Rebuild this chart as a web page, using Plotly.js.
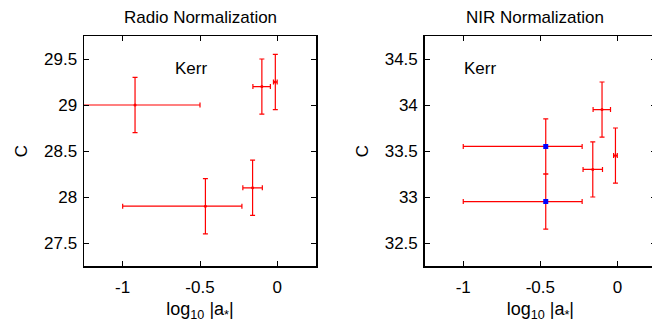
<!DOCTYPE html>
<html>
<head>
<meta charset="utf-8">
<script src="https://cdn.plot.ly/plotly-3.0.1.min.js"></script>
<style>
html,body{margin:0;padding:0;overflow:hidden;background:#fff;}
#chart{width:662px;height:322px;}
</style>
</head>
<body>
<div id="chart"></div>
<script>
// ---- data ----
const radioX      = [-0.92, -0.10, -0.013, -0.465, -0.16];
const radioY      = [29.0, 29.2, 29.25, 27.9, 28.1];
const radioXPlus  = [0.42, 0.055, 0.012, 0.236, 0.063];
const radioXMinus = [0.42, 0.058, 0.012, 0.535, 0.063];
const radioYErr   = [0.3, 0.3, 0.3, 0.3, 0.3];

const nirRedX      = [-0.10, -0.013, -0.16];
const nirRedY      = [33.95, 33.45, 33.30];
const nirRedXPlus  = [0.055, 0.012, 0.063];
const nirRedXMinus = [0.058, 0.012, 0.063];
const nirRedYErr   = [0.3, 0.3, 0.3];

const nirBlueX      = [-0.465, -0.465];
const nirBlueY      = [33.55, 32.95];
const nirBlueXPlus  = [0.236, 0.236];
const nirBlueXMinus = [0.535, 0.535];
const nirBlueYErr   = [0.3, 0.3];

const xTickVals = [-1, -0.5, 0];
const xTickText = ['-1', '-0.5', '0'];
const radioYTicks = [27.5, 28, 28.5, 29, 29.5];
const radioYText  = ['27.5', '28', '28.5', '29', '29.5'];
const nirYTicks   = [32.5, 33, 33.5, 34, 34.5];
const nirYText    = ['32.5', '33', '33.5', '34', '34.5'];

const titles = ['Radio Normalization', 'NIR Normalization'];
const xTitle = 'log<sub>10</sub> |a<sub>*</sub>|';
const yTitle = 'C';
const modelLabel = 'Kerr';

// ---- styles ----
const RED = 'rgb(255,0,0)';
const BLUE = 'rgb(0,0,255)';
const FONT = 'Liberation Sans, Arial, Helvetica, sans-serif';

function errX(plus, minus){
  return {type:'data', symmetric:false, array:plus, arrayminus:minus,
          color:RED, thickness:1.2, width:2.5};
}
function errY(v){
  return {type:'data', array:v, color:RED, thickness:1.2, width:2.5};
}

const traces = [
  {x:radioX, y:radioY, type:'scatter', mode:'markers', xaxis:'x', yaxis:'y',
   marker:{color:RED, size:3}, error_x:errX(radioXPlus, radioXMinus), error_y:errY(radioYErr),
   showlegend:false, hoverinfo:'skip'},
  {x:nirRedX, y:nirRedY, type:'scatter', mode:'markers', xaxis:'x2', yaxis:'y2',
   marker:{color:RED, size:3}, error_x:errX(nirRedXPlus, nirRedXMinus), error_y:errY(nirRedYErr),
   showlegend:false, hoverinfo:'skip'},
  {x:nirBlueX, y:nirBlueY, type:'scatter', mode:'markers', xaxis:'x2', yaxis:'y2',
   marker:{color:BLUE, size:5, symbol:'square'}, error_x:errX(nirBlueXPlus, nirBlueXMinus), error_y:errY(nirBlueYErr),
   showlegend:false, hoverinfo:'skip'}
];

const W = 662, H = 322;
const L = 84, R = 6, T = 36, B = 56;
const pw = W - L - R;
const dom1 = [0, 232/pw];
const dom2 = [(424.7-L)/pw, 1];

function xAxis(domain, anchor){
  return {domain:domain, anchor:anchor, range:[-1.25, 0.25],
    tickvals:xTickVals, ticktext:xTickText,
    showline:true, mirror:'ticks', linecolor:'#000', linewidth:1.5,
    ticks:'inside', ticklen:5, tickwidth:1, tickcolor:'#000',
    showgrid:false, zeroline:false, ticklabelstandoff:5,
    tickfont:{family:FONT, size:17, color:'#000'},
    title:{text:xTitle, font:{family:FONT, size:18, color:'#000'}, standoff:8}};
}
function yAxis(range, vals, text, anchor){
  return {domain:[0,1], anchor:anchor, range:range,
    tickvals:vals, ticktext:text,
    showline:true, mirror:'ticks', linecolor:'#000', linewidth:1.5,
    ticks:'inside', ticklen:5, tickwidth:1, tickcolor:'#000',
    showgrid:false, zeroline:false, ticklabelstandoff:2,
    tickfont:{family:FONT, size:17, color:'#000'},
    title:{text:yTitle, font:{family:FONT, size:17, color:'#000'}, standoff:12}};
}

const layout = {
  width:W, height:H,
  margin:{l:L, r:R, t:T, b:B, pad:0},
  paper_bgcolor:'#fff', plot_bgcolor:'#fff',
  font:{family:FONT, color:'#000'},
  xaxis:xAxis(dom1, 'y'),
  yaxis:yAxis([27.25, 29.75], radioYTicks, radioYText, 'x'),
  xaxis2:xAxis(dom2, 'y2'),
  yaxis2:yAxis([32.25, 34.75], nirYTicks, nirYText, 'x2'),
  annotations:[
    {text:titles[0], xref:'paper', yref:'paper', x:(dom1[0]+dom1[1])/2, y:1,
     xanchor:'center', yanchor:'middle', yshift:19,
     showarrow:false, font:{family:FONT, size:17, color:'#000'}},
    {text:titles[1], xref:'paper', yref:'paper', x:(535-L)/pw, y:1,
     xanchor:'center', yanchor:'middle', yshift:19,
     showarrow:false, font:{family:FONT, size:17, color:'#000'}},
    {text:modelLabel, xref:'x', yref:'y', x:-0.555, y:29.40, showarrow:false,
     xanchor:'center', yanchor:'middle',
     font:{family:FONT, size:17, color:'#000'}},
    {text:modelLabel, xref:'x2', yref:'y2', x:-0.89, y:34.40, showarrow:false,
     xanchor:'center', yanchor:'middle',
     font:{family:FONT, size:17, color:'#000'}}
  ]
};

Plotly.newPlot('chart', traces, layout, {staticPlot:true, displayModeBar:false});
</script>
</body>
</html>
